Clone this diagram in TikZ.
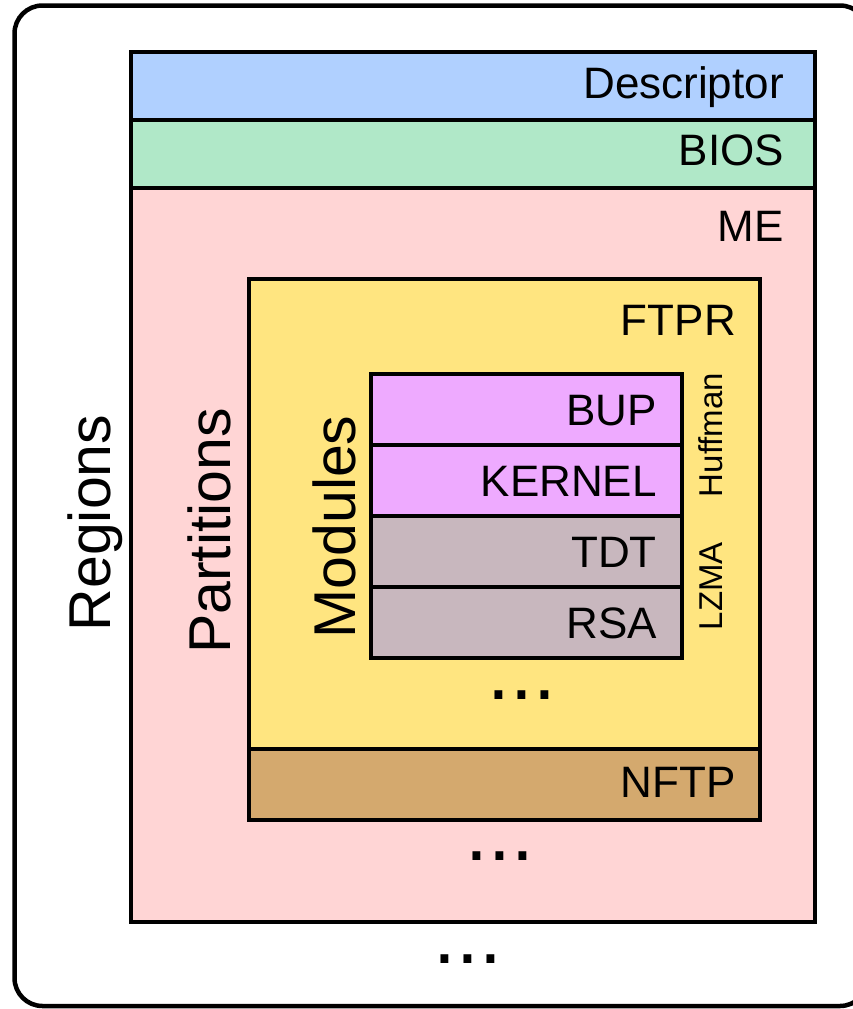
\documentclass[tikz,border=0pt]{standalone}
\usepackage{fontspec}
\setmainfont{Liberation Sans}
\definecolor{descblue}{RGB}{176,208,255}
\definecolor{biosgreen}{RGB}{176,232,200}
\definecolor{mepink}{RGB}{255,213,213}
\definecolor{ftpryellow}{RGB}{255,229,128}
\definecolor{nftptan}{RGB}{212,169,110}
\definecolor{modviolet}{RGB}{238,170,255}
\definecolor{modgray}{RGB}{200,183,190}
\tikzset{
  x=1pt, y=-1pt,
  box/.style={draw=black, line width=4.5pt},
  lbl/.style={inner sep=0pt, anchor=base east, font=\fontsize{44}{50}\selectfont},
  vlbl/.style={inner sep=0pt, rotate=90, anchor=base, font=\fontsize{59}{66}\selectfont},
  codec/.style={inner sep=0pt, rotate=90, anchor=base, font=\fontsize{33}{38}\selectfont},
  ellipsis/.style={inner sep=0pt, anchor=base, font=\fontsize{82}{90}\selectfont},
}
\begin{document}
\begin{tikzpicture}
\useasboundingbox (0,0) rectangle (853,1009);

% outer frame (regions)
\draw[line width=4.5pt, rounded corners=28pt] (14.5,5.5) rectangle (868,1006);

% flash regions
\draw[box, fill=descblue]  (131,52)  rectangle (815,120);
\draw[box, fill=biosgreen] (131,120) rectangle (815,188);
\draw[box, fill=mepink]    (131,188) rectangle (815,922);

% partitions inside ME
\draw[box, fill=ftpryellow] (249,279) rectangle (760,749);
\draw[box, fill=nftptan]    (249,749) rectangle (760,820);

% modules inside FTPR
\draw[box, fill=modviolet] (371,374) rectangle (682,445);
\draw[box, fill=modviolet] (371,445) rectangle (682,516);
\draw[box, fill=modgray]   (371,516) rectangle (682,587);
\draw[box, fill=modgray]   (371,587) rectangle (682,658);

% box labels
\node[lbl] (desc)   at (784,98)  {Descriptor};
\node[lbl] (bios)   at (784,165) {BIOS};
\node[lbl] (me)     at (784,241) {ME};
\node[lbl] (ftpr)   at (736,335) {FTPR};
\node[lbl] (nftp)   at (736,797) {NFTP};
\node[lbl] (bup)    at (657,425) {BUP};
\node[lbl] (kernel) at (657,496) {KERNEL};
\node[lbl] (tdt)    at (657,567) {TDT};
\node[lbl] (rsa)    at (657,638) {RSA};

% level captions
\node[vlbl] (regions)    at (110,523) {Regions};
\node[vlbl] (partitions) at (230,531) {Partitions};
\node[vlbl] (modules)    at (355,527) {Modules};

% compression schemes
\node[codec] (huffman) at (722,435) {Huffman};
\node[codec] (lzma)    at (722,586) {LZMA};

% continuation marks
\node[ellipsis] (moremods)  at (522,699) {...};
\node[ellipsis] (moreparts) at (500,860) {...};
\node[ellipsis] (moreregs)  at (468,963) {...};
\end{tikzpicture}
\end{document}
